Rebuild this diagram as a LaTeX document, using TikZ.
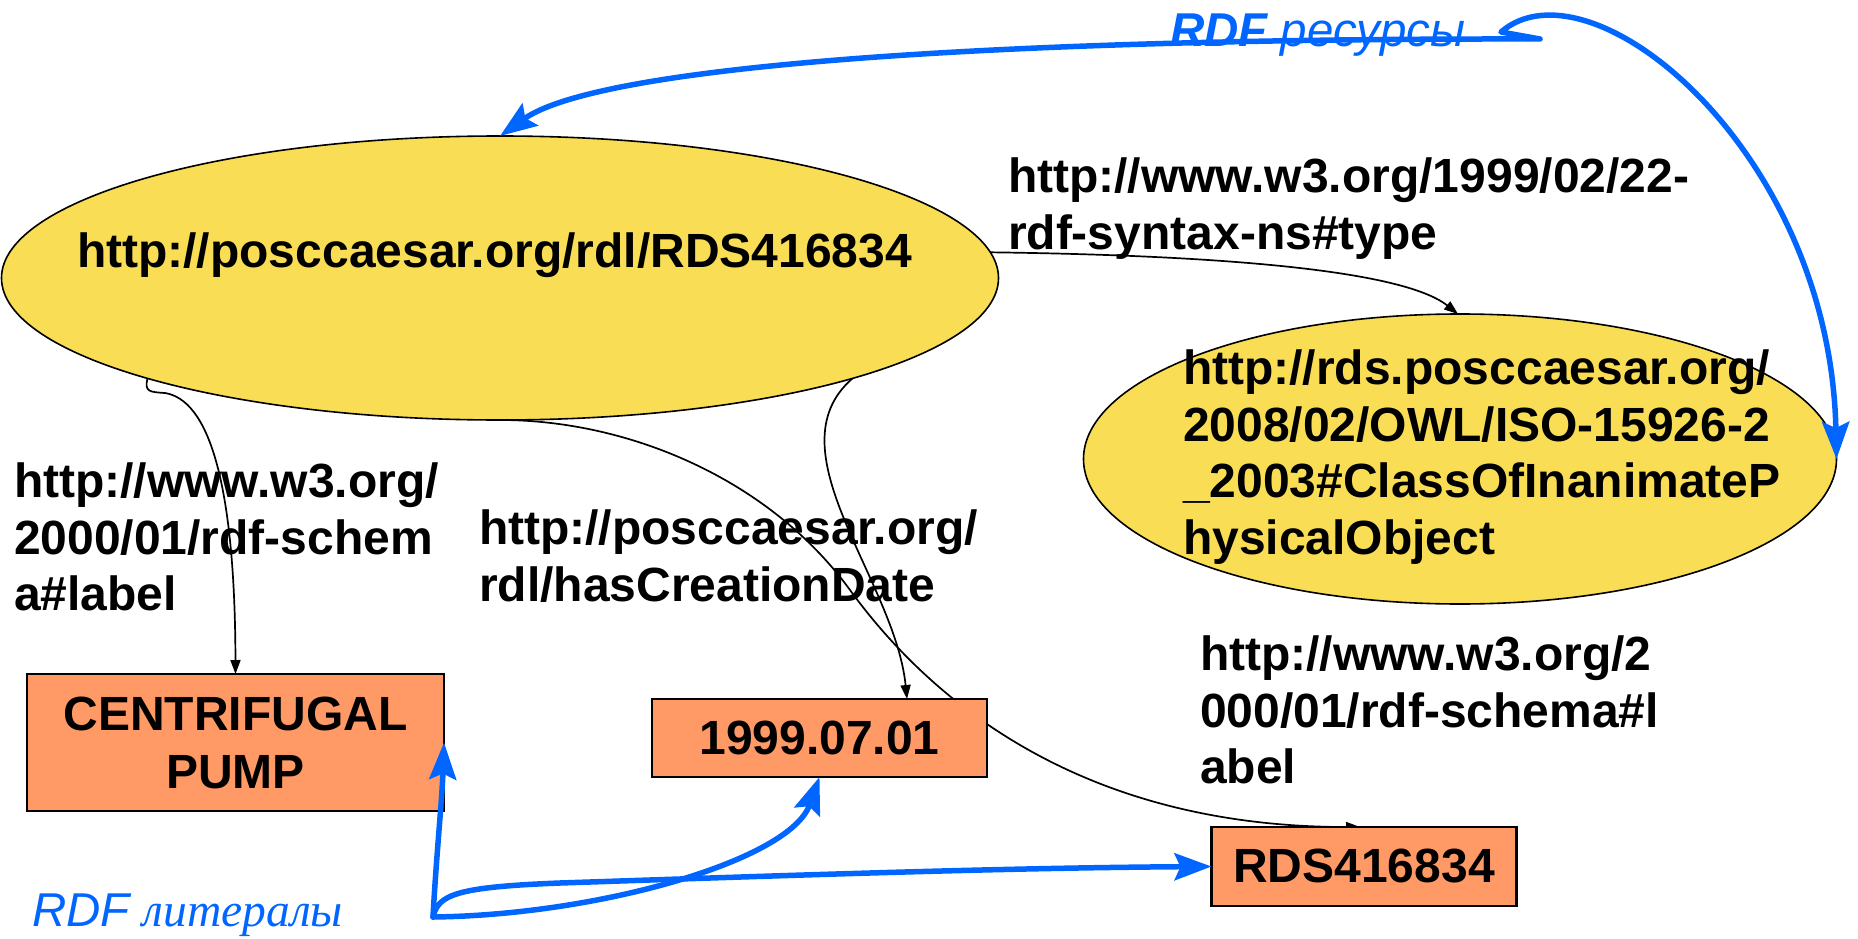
\documentclass[tikz,border=0pt]{standalone}
\usepackage{fontspec}
\setmainfont{Liberation Sans}
\newfontfamily\serifit{Liberation Serif}
\usetikzlibrary{arrows.meta,shapes.geometric,calc}
\definecolor{resyellow}{RGB}{249,222,85}
\definecolor{litorange}{RGB}{255,153,102}
\definecolor{rdfblue}{RGB}{0,102,255}
\pgfdeclarelayer{edges}
\pgfsetlayers{edges,main}
\begin{document}
\begin{tikzpicture}[x=1pt,y=-1pt,
  every node/.style={inner sep=0pt, outer sep=0pt},
  txt/.style={font=\fontsize{48}{56.5}\selectfont\bfseries, align=left, anchor=north west},
  resource/.style={ellipse, draw=black, line width=1.6pt, fill=resyellow},
  literal/.style={rectangle, draw=black, line width=2.6pt, fill=litorange,
    font=\fontsize{48}{58}\selectfont\bfseries, align=center},
  prop/.style={line width=1.7pt, -{Triangle[length=14pt,width=10pt]}},
  kind/.style={rdfblue, line width=5.5pt, line cap=round, line join=round},
  kindtip/.style={-{Stealth[length=37pt,width=27pt,inset=6pt]}},
  bluelbl/.style={font=\fontsize{47.5}{57}\selectfont, text=rdfblue, anchor=base west}
]
\useasboundingbox (0,0) rectangle (1858,939);

% resources
\node[resource, minimum width=997pt, minimum height=284pt] (res) at (500,278) {};
\node[txt, anchor=base west] (resname) at (77,267) {http://posccaesar.org/rdl/RDS416834};
\node[resource, minimum width=753pt, minimum height=290pt] (cls) at (1460,459) {};
\node[txt] (clsname) at (1183,350)
  {http://rds.posccaesar.org/\\2008/02/OWL/ISO-15926-2\\\_2003\#ClassOfInanimateP\\hysicalObject};

% property labels
\node[txt] (typelbl) at (1008,158) {http://www.w3.org/1999/02/22-\\rdf-syntax-ns\#type};
\node[txt] (labellbl) at (14,463) {http://www.w3.org/\\2000/01/rdf-schem\\a\#label};
\node[txt] (datelbl) at (479,510) {http://posccaesar.org/\\rdl/hasCreationDate};
\node[txt] (labellbltwo) at (1200,636) {http://www.w3.org/2\\000/01/rdf-schema\#l\\abel};

% literals
\node[literal, minimum width=417pt, minimum height=137pt] (pump) at (235.5,742.5) {CENTRIFUGAL\\PUMP};
\node[literal, minimum width=335pt, minimum height=78pt] (date) at (819.5,738) {1999.07.01};
\node[literal, minimum width=305pt, minimum height=79pt] (rds) at (1364,866.5) {RDS416834};

% triples
\begin{pgfonlayer}{edges}
\draw[prop] (res.south west) .. controls (144,392) and (150,392) .. (165,393)
  .. controls (208,400) and (235,480) .. (pump.north);
\draw[prop] (res.south east) .. controls (770,450) and (895,580) .. ([xshift=87.5pt]date.north);
\draw[prop] (res.south) .. controls (630,420) and (770,480) .. (850,590)
  .. controls (930,700) and (1080,827) .. ([xshift=-4pt]rds.north);
\draw[prop] (res.3) .. controls (1200,255) and (1400,268) .. ([xshift=-2pt]cls.north);
\end{pgfonlayer}

% kind annotations
\node[bluelbl] (reslbl) at (1170,47) {\bfseries\itshape RDF \mdseries ресурсы};
\node[bluelbl] (litlbl) at (32,926) {\itshape RDF {\serifit\itshape литералы}};

\coordinate (hub) at (1540,39);
\coordinate (hook) at (1501,32);
\coordinate (lit) at (433,917);

\draw[kind, {Stealth[length=37pt,width=27pt,inset=6pt]}-{Stealth[length=37pt,width=27pt,inset=6pt]}]
  (res.north) .. controls (600,65) and (1000,38) .. (hub) -- (hook)
  .. controls (1590,-45) and (1830,150) .. (cls.east);

\draw[kind, kindtip] (lit) .. controls (436,860) and (442,800) .. (pump.east);
\draw[kind, kindtip] (lit) .. controls (600,915) and (790,860) .. (date.south);
\draw[kind, kindtip] (lit) .. controls (438,895) and (455,887) .. (560,883)
  .. controls (800,875) and (1000,868) .. (rds.west);
\end{tikzpicture}
\end{document}
